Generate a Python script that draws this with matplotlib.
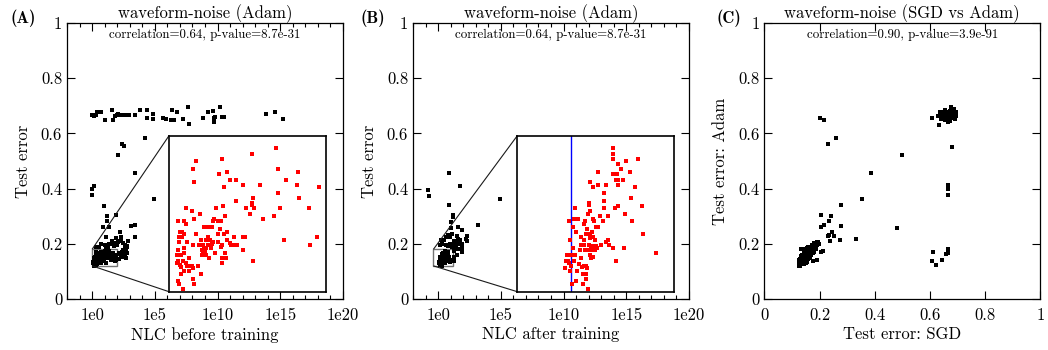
import numpy as np
import matplotlib
matplotlib.use('Agg')
import matplotlib.pyplot as plt
from matplotlib.ticker import FuncFormatter, FixedLocator
from mpl_toolkits.axes_grid1.inset_locator import mark_inset

plt.rcParams['font.family'] = ['cmr10', 'DejaVu Serif']
plt.rcParams['axes.formatter.use_mathtext'] = True
plt.rcParams['mathtext.fontset'] = 'cm'

# ---------------- data ----------------
# (A) NLC before training (log10) vs Adam test error
# points inside the zoomed box (shown red in the inset)
a_zoom_lognlc = [1.370, 1.064, 0.340, 0.681, 0.311, 1.396, 0.643, 0.745, 1.651, 0.323,
                 0.783, 0.860, 1.498, 1.638, 0.706, 0.949, 1.166, 1.919, 1.396, 1.077,
                 1.664, 0.860, 1.064, 1.064, 0.221, 0.604, 0.694, 0.987, 1.089, 1.421,
                 1.791, 0.298, 0.400, 1.038, 1.345, 0.719, 0.323, 0.579, 0.630, 0.668,
                 1.204, 0.566, 0.119, 0.196, 0.221, 0.451, 0.502, 0.553, 0.655, 0.145,
                 0.170, 0.745, 0.196, 0.349, 0.706, 0.630, 0.132, 0.170, 0.413, 0.477,
                 0.502, 0.528, 0.566, 0.553, 0.630, 0.745, 0.834, 0.940, 0.970, 1.472,
                 1.893, 0.132, 0.234, 0.311, 0.387, 0.438, 0.502, 0.515, 0.681, 0.783,
                 0.796, 0.821, 0.847, 0.872, 1.804, 0.451, 0.477, 0.540, 0.668, 0.196,
                 0.119, 0.426, 0.438, 0.460, 0.591, 0.719, 0.949, 0.477, 0.426, 0.106,
                 0.132, 0.157, 0.196, 0.515, 0.260, 0.681, 0.732, 0.119, 0.183, 0.681,
                 1.077, 0.106, 0.221, 0.145, 0.157, 0.272, 0.298, 0.234, 0.374, 0.311,
                 0.196, 0.260, 0.157, 0.413, 0.311, 0.119, 0.132, 0.323, 0.183]
a_zoom_err = [0.1751, 0.1728, 0.1701, 0.1709, 0.1671, 0.1671, 0.1651, 0.1659, 0.1659, 0.1621,
              0.1628, 0.1628, 0.1628, 0.1609, 0.1601, 0.1609, 0.1609, 0.1601, 0.1578, 0.1559,
              0.1559, 0.1547, 0.1540, 0.1532, 0.1521, 0.1521, 0.1528, 0.1521, 0.1521, 0.1521,
              0.1521, 0.1509, 0.1497, 0.1497, 0.1490, 0.1490, 0.1478, 0.1478, 0.1471, 0.1471,
              0.1478, 0.1471, 0.1471, 0.1471, 0.1459, 0.1447, 0.1447, 0.1447, 0.1440, 0.1428,
              0.1428, 0.1428, 0.1421, 0.1421, 0.1421, 0.1421, 0.1409, 0.1409, 0.1397, 0.1397,
              0.1409, 0.1397, 0.1390, 0.1382, 0.1390, 0.1397, 0.1409, 0.1409, 0.1409, 0.1397,
              0.1409, 0.1390, 0.1390, 0.1378, 0.1378, 0.1378, 0.1378, 0.1378, 0.1378, 0.1386,
              0.1378, 0.1378, 0.1378, 0.1378, 0.1378, 0.1367, 0.1367, 0.1367, 0.1372, 0.1367,
              0.1359, 0.1359, 0.1351, 0.1351, 0.1347, 0.1347, 0.1359, 0.1340, 0.1340, 0.1340,
              0.1340, 0.1340, 0.1347, 0.1330, 0.1330, 0.1330, 0.1330, 0.1318, 0.1318, 0.1309,
              0.1318, 0.1309, 0.1309, 0.1301, 0.1294, 0.1297, 0.1297, 0.1297, 0.1297, 0.1290,
              0.1278, 0.1278, 0.1267, 0.1267, 0.1247, 0.1240, 0.1228, 0.1228, 0.1209]
# remaining points of panel A
a_rest_lognlc = [0.00, 0.13, 0.29, 0.42, 0.74, 1.03, 1.59, 1.64, 1.83, 1.96,
                 2.07, 2.23, 2.44, 2.71, 2.92, 3.40, 3.82, 4.40, 4.40, 4.85,
                 4.88, 5.68, 5.89, 6.26, 6.34, 6.50, 6.74, 7.21, 7.64, 7.75,
                 8.81, 9.26, 9.63, 9.71, 9.73, 9.81, 10.16, 10.37, 10.53, 13.85,
                 14.54, 15.23,
                 4.22, 2.36, 2.54, 2.07, 3.42, 0.16, 0.00, 0.00, 4.93, 0.95,
                 1.19, 1.19, 1.91, 0.87, 1.35, 3.10, 3.42, 3.45, 1.11, 2.23,
                 1.59, 2.07, 2.30, 2.86,
                 1.03, 1.27, 1.51, 1.83, 2.07, 2.23, 2.46, 2.62, 2.78, 2.70,
                 2.54, 2.38, 2.23, 2.62, 2.46, 2.78, 2.31, 2.15, 2.68, 1.75,
                 1.99, 1.35, 1.14, 1.91, 2.31, 0.56, 0.29, 0.69, 2.52, 2.34,
                 2.44, 2.73, 2.81, 2.60, 2.15]
a_rest_err = [0.666, 0.663, 0.665, 0.678, 0.676, 0.647, 0.683, 0.648, 0.662, 0.666,
              0.671, 0.668, 0.668, 0.667, 0.668, 0.667, 0.683, 0.657, 0.684, 0.672,
              0.651, 0.657, 0.651, 0.648, 0.684, 0.648, 0.677, 0.651, 0.694, 0.633,
              0.657, 0.676, 0.680, 0.640, 0.657, 0.661, 0.694, 0.660, 0.661, 0.672,
              0.676, 0.651,
              0.585, 0.563, 0.554, 0.520, 0.455, 0.410, 0.397, 0.376, 0.361, 0.338,
              0.299, 0.282, 0.306, 0.261, 0.261, 0.264, 0.267, 0.226, 0.226, 0.241,
              0.209, 0.209, 0.212, 0.209,
              0.195, 0.189, 0.199, 0.204, 0.206, 0.210, 0.204, 0.197, 0.189, 0.180,
              0.175, 0.170, 0.163, 0.163, 0.156, 0.168, 0.151, 0.144, 0.147, 0.192,
              0.195, 0.201, 0.187, 0.220, 0.226, 0.187, 0.189, 0.201, 0.153, 0.159,
              0.177, 0.183, 0.192, 0.189, 0.165]

# (B) NLC after training (log10) vs Adam test error
b_zoom_lognlc = [0.558, 0.558, 0.558, 0.801, 0.607, 0.684, 0.636, 0.723, 0.412, 0.558,
                 0.597, 0.587, 0.607, 0.655, 0.335, 0.412, 0.490, 0.607, 0.364, 0.772,
                 0.471, 0.733, 0.471, 0.325, 0.325, 0.189, 0.335, 0.471, 0.577, 0.607,
                 0.840, 0.315, 0.675, 0.432, 0.509, 0.131, 0.179, 0.218, 0.286, 0.364,
                 0.374, 0.461, 0.743, 0.276, 0.170, 0.306, 0.393, 0.412, 0.199, 0.354,
                 0.296, 0.315, 0.335, 0.364, 0.849, 0.247, 0.276, 0.335, 0.141, 0.383,
                 0.509, 0.490, 0.442, 0.519, 0.247, 0.276, 0.325, 0.344, 0.364, 0.393,
                 0.558, 0.665, 0.170, 0.238, 0.286, 0.325, 0.354, 0.383, 0.403, 0.111,
                 0.150, 0.189, 0.247, 0.335, 0.364, 0.344, 0.587, 0.976, 0.098, 0.121,
                 0.179, 0.131, 0.228, 0.296, 0.276, 0.257, 0.306, 0.150, 0.092, 0.209,
                 0.134, 0.267, 0.296, 0.296, 0.199, 0.160, 0.267, 0.315]
b_zoom_err = [0.1751, 0.1728, 0.1709, 0.1709, 0.1690, 0.1701, 0.1671, 0.1659, 0.1659, 0.1651,
              0.1651, 0.1628, 0.1628, 0.1628, 0.1621, 0.1609, 0.1609, 0.1609, 0.1601, 0.1601,
              0.1578, 0.1559, 0.1547, 0.1540, 0.1532, 0.1521, 0.1509, 0.1521, 0.1521, 0.1528,
              0.1528, 0.1497, 0.1497, 0.1490, 0.1490, 0.1471, 0.1478, 0.1478, 0.1471, 0.1478,
              0.1471, 0.1471, 0.1471, 0.1459, 0.1447, 0.1440, 0.1447, 0.1447, 0.1428, 0.1428,
              0.1421, 0.1421, 0.1417, 0.1409, 0.1421, 0.1409, 0.1397, 0.1405, 0.1397, 0.1397,
              0.1397, 0.1390, 0.1378, 0.1378, 0.1378, 0.1378, 0.1378, 0.1374, 0.1374, 0.1374,
              0.1367, 0.1367, 0.1367, 0.1359, 0.1359, 0.1359, 0.1359, 0.1359, 0.1367, 0.1340,
              0.1340, 0.1340, 0.1330, 0.1340, 0.1332, 0.1330, 0.1318, 0.1347, 0.1318, 0.1318,
              0.1318, 0.1309, 0.1305, 0.1297, 0.1297, 0.1294, 0.1290, 0.1297, 0.1290, 0.1278,
              0.1278, 0.1267, 0.1267, 0.1247, 0.1240, 0.1228, 0.1228, 0.1209]
b_rest_lognlc = [0.88, -0.80, -0.72, 1.76, 0.88, 1.20, 1.18, 1.04, 1.55, 1.04,
                 3.16, 1.93, 1.52, 0.72, 2.32, 2.24, 4.97, 2.30, 1.93, 1.93,
                 0.88, 1.28,
                 0.48, 0.63, 0.79, 0.95, 1.11, 1.27, 1.43, 1.59, 1.75, 1.90,
                 1.90, 1.90, 1.27, 1.43, 1.59, 1.11, 1.27, 0.95, 0.79, 0.63,
                 1.27, 1.19, 1.48, 1.59, 0.32, 0.16, 0.21]
b_rest_err = [0.455, 0.394, 0.375, 0.411, 0.340, 0.306, 0.298, 0.280, 0.262, 0.259,
              0.268, 0.251, 0.228, 0.226, 0.230, 0.218, 0.361, 0.209, 0.187, 0.171,
              0.153, 0.137,
              0.214, 0.223, 0.231, 0.223, 0.235, 0.209, 0.209, 0.218, 0.214, 0.199,
              0.187, 0.175, 0.194, 0.187, 0.180, 0.187, 0.175, 0.201, 0.192, 0.194,
              0.151, 0.141, 0.159, 0.201, 0.201, 0.194, 0.214]
b_threshold = 1.41

# (C) SGD test error vs Adam test error
c_sgd = [0.125, 0.127, 0.130, 0.128, 0.132, 0.135, 0.130, 0.126, 0.138, 0.140,
         0.133, 0.136, 0.142, 0.145, 0.140, 0.148, 0.150, 0.146, 0.152, 0.155,
         0.150, 0.158, 0.160, 0.157, 0.162, 0.165, 0.160, 0.168, 0.170, 0.166,
         0.172, 0.175, 0.170, 0.178, 0.180, 0.176, 0.182, 0.185, 0.180, 0.188,
         0.190, 0.186, 0.192, 0.195, 0.155, 0.160, 0.165, 0.170, 0.175, 0.180,
         0.145, 0.150, 0.135, 0.140, 0.128, 0.132, 0.137, 0.143, 0.148, 0.153,
         0.163, 0.168, 0.173, 0.183, 0.187, 0.177, 0.192, 0.134, 0.124, 0.129,
         0.155, 0.160, 0.148,
         0.201, 0.216, 0.259, 0.232, 0.500, 0.388, 0.680, 0.666, 0.666, 0.666,
         0.355, 0.279, 0.206, 0.243, 0.235, 0.217, 0.206, 0.279, 0.481, 0.246,
         0.235, 0.253, 0.229, 0.239, 0.275, 0.333, 0.192, 0.199, 0.214, 0.204,
         0.612, 0.608, 0.622, 0.644, 0.658, 0.665, 0.666, 0.606, 0.633,
         0.678, 0.687, 0.696, 0.654, 0.660, 0.672, 0.636, 0.642, 0.648, 0.660,
         0.666, 0.678, 0.690, 0.672, 0.654, 0.642, 0.666, 0.684, 0.694, 0.656,
         0.675, 0.648, 0.680, 0.630, 0.662, 0.670, 0.658, 0.676]
c_adam = [0.120, 0.125, 0.122, 0.130, 0.128, 0.126, 0.135, 0.140, 0.132, 0.128,
          0.143, 0.138, 0.135, 0.140, 0.145, 0.138, 0.145, 0.150, 0.152, 0.148,
          0.158, 0.155, 0.160, 0.165, 0.168, 0.162, 0.172, 0.170, 0.176, 0.180,
          0.182, 0.178, 0.188, 0.186, 0.192, 0.195, 0.198, 0.190, 0.202, 0.196,
          0.205, 0.203, 0.200, 0.207, 0.135, 0.145, 0.150, 0.160, 0.168, 0.172,
          0.128, 0.132, 0.150, 0.155, 0.145, 0.155, 0.160, 0.165, 0.170, 0.175,
          0.185, 0.190, 0.195, 0.183, 0.180, 0.139, 0.141, 0.181, 0.128, 0.118,
          0.185, 0.190, 0.180,
          0.654, 0.650, 0.585, 0.563, 0.520, 0.455, 0.552, 0.413, 0.397, 0.376,
          0.361, 0.339, 0.306, 0.299, 0.281, 0.267, 0.260, 0.263, 0.259, 0.241,
          0.231, 0.227, 0.227, 0.209, 0.212, 0.216, 0.194, 0.198, 0.173, 0.169,
          0.170, 0.138, 0.122, 0.141, 0.162, 0.181, 0.167, 0.654, 0.632,
          0.694, 0.688, 0.678, 0.684, 0.678, 0.680, 0.676, 0.666, 0.660, 0.663,
          0.654, 0.660, 0.651, 0.644, 0.648, 0.651, 0.640, 0.668, 0.663, 0.672,
          0.672, 0.678, 0.682, 0.663, 0.668, 0.665, 0.657, 0.655]

zoom_x = (1e0, 1e2)
zoom_y = (0.12, 0.18)
zoom_x_b = (10 ** -0.374, 10 ** 1.15)

W, H = 1048, 350
fig = plt.figure(figsize=(W / 100, H / 100), dpi=100)

ms = 2.3
fs = 12


def style(ax):
    ax.tick_params(which='both', direction='in', top=True, right=True,
                   labelsize=fs, width=0.8)
    ax.tick_params(which='major', length=5.5)
    ax.tick_params(which='minor', length=3)
    ax.tick_params(axis='x', which='both', pad=6)
    for s in ax.spines.values():
        s.set_linewidth(0.9)
    ax.set_ylim(0, 1)
    ax.set_yticks([0, 0.2, 0.4, 0.6, 0.8, 1.0])
    ax.yaxis.set_major_formatter(FuncFormatter(lambda v, p: '%g' % round(v, 2)))


def log_axis(ax):
    ax.set_xscale('log')
    ax.set_xlim(1e-2, 1e20)
    ax.xaxis.set_major_locator(FixedLocator([10.0 ** k for k in range(0, 21, 5)]))
    ax.xaxis.set_minor_locator(FixedLocator([10.0 ** k for k in range(-2, 21)]))
    ax.xaxis.set_major_formatter(FuncFormatter(lambda v, p: '1e%d' % round(np.log10(v))))
    ax.xaxis.set_minor_formatter(FuncFormatter(lambda v, p: ''))


def head(ax, title, corr):
    ax.set_title(title, fontsize=fs, pad=3)
    ax.text(0.5, 0.956, corr, transform=ax.transAxes, ha='center', va='center', fontsize=9.3)


def zoom_panel(ax, rect, xr):
    axins = fig.add_axes(rect)
    axins.set_xscale('log')
    axins.set_xlim(*xr)
    axins.set_ylim(*zoom_y)
    axins.set_xticks([])
    axins.set_yticks([])
    axins.minorticks_off()
    for s in axins.spines.values():
        s.set_linewidth(1.2)
    pp, p1, p2 = mark_inset(ax, axins, loc1=2, loc2=3, fc='none', ec='0.1', lw=0.8)
    pp.set_edgecolor('0.45')
    pp.set_linewidth(1.0)
    return axins


axw = 276 / W
axh = 276 / H
axb = 51 / H

# ---- (A)
axA = fig.add_axes([67 / W, axb, axw, axh])
style(axA)
log_axis(axA)
axA.plot(10 ** np.array(a_rest_lognlc), a_rest_err, 's', ms=ms, mew=0, color='k')
axA.plot(10 ** np.array(a_zoom_lognlc), a_zoom_err, 's', ms=ms, mew=0, color='k')
axA.set_xlabel('NLC before training', fontsize=fs, labelpad=3)
axA.set_ylabel('Test error', fontsize=fs, labelpad=7)
head(axA, 'waveform-noise (Adam)', 'correlation=0.64, p-value=8.7e-31')
insA = zoom_panel(axA, [169 / W, (H - 291.7) / H, 156.7 / W, 156 / H], zoom_x)
insA.plot(10 ** np.array(a_zoom_lognlc), a_zoom_err, 's', ms=ms, mew=0, color='red')

# ---- (B)
axB = fig.add_axes([413 / W, axb, axw, axh])
style(axB)
log_axis(axB)
axB.plot(10 ** np.array(b_rest_lognlc), b_rest_err, 's', ms=ms, mew=0, color='k')
axB.plot(10 ** np.array(b_zoom_lognlc), b_zoom_err, 's', ms=ms, mew=0, color='k')
axB.set_xlabel('NLC after training', fontsize=fs, labelpad=3)
axB.set_ylabel('Test error', fontsize=fs, labelpad=7)
head(axB, 'waveform-noise (Adam)', 'correlation=0.64, p-value=8.7e-31')
insB = zoom_panel(axB, [517.3 / W, (H - 291.7) / H, 157 / W, 156 / H], zoom_x_b)
insB.axvline(b_threshold, color='blue', lw=1.0)
insB.plot(10 ** np.array(b_zoom_lognlc), b_zoom_err, 's', ms=ms, mew=0, color='red')

# ---- (C)
axC = fig.add_axes([764.3 / W, axb, axw, axh])
style(axC)
axC.set_xlim(0, 1)
axC.set_xticks([0, 0.2, 0.4, 0.6, 0.8, 1.0])
axC.xaxis.set_major_formatter(FuncFormatter(lambda v, p: '%g' % round(v, 2)))
axC.plot(c_sgd, c_adam, 's', ms=ms, mew=0, color='k')
axC.set_xlabel('Test error: SGD', fontsize=fs, labelpad=3)
axC.set_ylabel('Test error: Adam', fontsize=fs, labelpad=7)
head(axC, 'waveform-noise (SGD vs Adam)', 'correlation=0.90, p-value=3.9e-91')

for lab, x in [('(A)', 11 / W), ('(B)', 361 / W), ('(C)', 716 / W)]:
    fig.text(x, 1 - 18 / H, lab, fontfamily=['cmb10', 'DejaVu Serif'], fontweight='bold',
             fontsize=fs, va='center', ha='left')

fig.savefig('out.png', dpi=100)
